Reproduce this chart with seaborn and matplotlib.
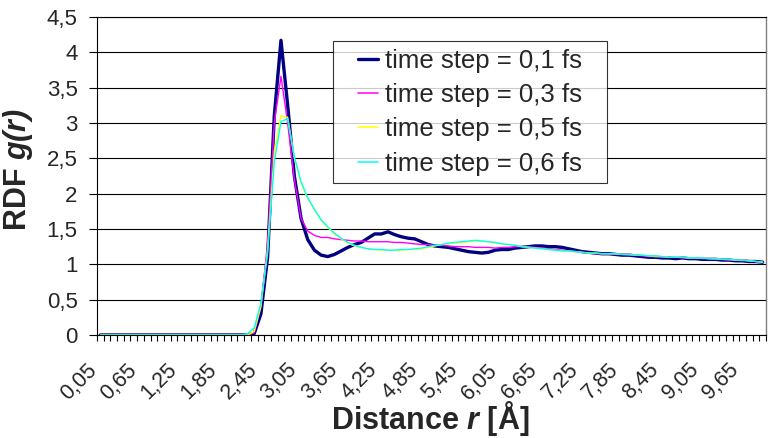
import numpy as np
import pandas as pd
import seaborn as sns
import matplotlib.pyplot as plt
import matplotlib.transforms as mtransforms
from matplotlib.legend_handler import HandlerLine2D

# radial distribution function for four time steps, 0.1 A bins (0,05 ... 9,95)
r_values = [round(0.05 + 0.1 * k, 2) for k in range(100)]
labels = ['time step = 0,1 fs', 'time step = 0,3 fs',
          'time step = 0,5 fs', 'time step = 0,6 fs']
colors = ['#000080', '#FF00FF', '#FFFF00', '#00FFFF']
widths = [2.4, 1.0, 1.0, 1.0]

g_01 = [0.0] * 23 + [
    0.02, 0.3, 1.1, 3.1, 4.17, 3.25, 2.25, 1.65, 1.35, 1.2, 1.13, 1.11,
    1.14, 1.19, 1.24, 1.28, 1.31, 1.37, 1.43, 1.43, 1.46, 1.42, 1.39, 1.37, 1.36, 1.32, 1.28,
    1.26, 1.25, 1.24, 1.22, 1.20, 1.18, 1.17, 1.16, 1.17, 1.20, 1.21, 1.21, 1.23, 1.24, 1.25,
    1.26, 1.26, 1.25, 1.25, 1.24, 1.22, 1.20, 1.18, 1.17, 1.16, 1.15, 1.15, 1.14, 1.13, 1.13,
    1.12, 1.11, 1.10, 1.10, 1.09, 1.09, 1.08, 1.09, 1.08, 1.08,
    1.07, 1.07, 1.07, 1.06, 1.06, 1.05, 1.05, 1.04, 1.04, 1.03]

g_03 = [0.0] * 23 + [
    0.03, 0.4, 1.3, 3.0, 3.66, 3.0, 2.2, 1.65, 1.47, 1.41, 1.38, 1.38,
    1.36, 1.35, 1.34, 1.33, 1.33, 1.32, 1.32, 1.32, 1.32, 1.31, 1.31, 1.30, 1.29, 1.28, 1.28,
    1.27, 1.27, 1.26, 1.25, 1.25, 1.25, 1.24, 1.24, 1.24, 1.23, 1.24, 1.24, 1.25, 1.25, 1.25,
    1.24, 1.23, 1.22, 1.21, 1.20, 1.19, 1.18, 1.17, 1.16, 1.15, 1.15, 1.15, 1.14, 1.14, 1.13,
    1.13, 1.12, 1.11, 1.11, 1.10, 1.10, 1.10, 1.09, 1.09, 1.09,
    1.08, 1.08, 1.07, 1.07, 1.06, 1.06, 1.05, 1.05, 1.04, 1.03]

g_05 = [0.0] * 23 + [
    0.05, 0.4, 1.2, 2.6, 3.1, 3.08, 2.5, 2.15, 1.93, 1.77, 1.62, 1.52,
    1.43, 1.36, 1.30, 1.26, 1.24, 1.22, 1.21, 1.20, 1.20, 1.20, 1.20, 1.21, 1.21, 1.22, 1.24,
    1.26, 1.28, 1.29, 1.30, 1.31, 1.32, 1.33, 1.33, 1.32, 1.30, 1.29, 1.28, 1.27, 1.25, 1.24,
    1.23, 1.22, 1.21, 1.20, 1.19, 1.185, 1.18, 1.17, 1.16, 1.16, 1.15, 1.15, 1.15, 1.14, 1.14,
    1.13, 1.13, 1.12, 1.11, 1.11, 1.10, 1.10, 1.10, 1.09, 1.09,
    1.09, 1.08, 1.08, 1.07, 1.07, 1.06, 1.06, 1.05, 1.04, 1.03]

g_06 = [0.0] * 22 + [
    0.02, 0.1, 0.45, 1.15, 2.45, 3.02, 3.06, 2.52, 2.17, 1.94, 1.78, 1.63, 1.53,
    1.44, 1.37, 1.31, 1.27, 1.24, 1.22, 1.21, 1.21, 1.20, 1.20, 1.21, 1.21, 1.22, 1.23, 1.25,
    1.27, 1.28, 1.30, 1.31, 1.32, 1.33, 1.34, 1.33, 1.32, 1.31, 1.29, 1.28, 1.27, 1.25, 1.24,
    1.23, 1.22, 1.21, 1.20, 1.19, 1.19, 1.18, 1.17, 1.16, 1.16, 1.15, 1.15, 1.15, 1.14, 1.14,
    1.13, 1.13, 1.12, 1.12, 1.11, 1.10, 1.10, 1.10, 1.09, 1.09,
    1.09, 1.08, 1.08, 1.07, 1.07, 1.06, 1.06, 1.05, 1.04, 1.03]

series = [g_01, g_03, g_05, g_06]

y_ticks = [0, 0.5, 1, 1.5, 2, 2.5, 3, 3.5, 4, 4.5]
y_ticklabels = ['0', '0,5', '1', '1,5', '2', '2,5', '3', '3,5', '4', '4,5']


class ShortLine(HandlerLine2D):
    # excel legend keys are short strokes right before the text
    def create_artists(self, *args, **kwargs):
        arts = super().create_artists(*args, **kwargs)
        for a in arts:
            x = a.get_xdata()
            y = a.get_ydata()
            if len(x) >= 2:
                a.set_data([x[-1] - 14.5, x[-1]], [y[0], y[0]])
                a.set_linewidth(max(a.get_linewidth(), 1.1))
        return arts


sns.set_theme(style='white')
plt.rcParams['font.family'] = ['Liberation Sans', 'DejaVu Sans']
plt.rcParams['mathtext.fontset'] = 'custom'
plt.rcParams['mathtext.bfit'] = 'Liberation Sans:italic:bold'
plt.rcParams['mathtext.rm'] = 'Liberation Sans'

fig = plt.figure(figsize=(7.75, 4.38), dpi=100)
ax = fig.add_axes([97 / 775, 1 - 335 / 438, 669 / 775, 318 / 438])

# excel style category axis: one category per bin
idx = np.arange(len(r_values))
for vals, lab, col, lw in zip(series, labels, colors, widths):
    df = pd.DataFrame({'cat': idx, 'g': vals})
    sns.lineplot(data=df, x='cat', y='g', color=col, linewidth=lw, label=lab, ax=ax)

ax.set_xlim(-0.5, len(r_values) - 0.5)
ax.set_ylim(0, 4.5)

# tick marks between the categories, labels on every sixth category
ax.set_xticks(np.arange(-0.5, len(r_values), 1.0))
ax.set_xticklabels([])
ax.tick_params(axis='x', which='major', direction='out', length=4, width=0.8,
               color='black', bottom=True)
lab_pos = idx[::6]
ax.set_xticks(lab_pos, minor=True)
ax.set_xticklabels([f'{r_values[k]:.2f}'.replace('.', ',') for k in lab_pos],
                   minor=True, rotation=45, ha='right', rotation_mode='anchor',
                   va='center')
ax.tick_params(axis='x', which='minor', length=0, pad=23, labelsize=15.5)
shift = mtransforms.ScaledTranslation(-7 / 100, 0, fig.dpi_scale_trans)
for t in ax.get_xticklabels(minor=True):
    t.set_transform(t.get_transform() + shift)

ax.set_yticks(y_ticks)
ax.set_yticklabels(y_ticklabels)
ax.tick_params(axis='y', direction='out', length=6, width=0.8, color='black',
               left=True, pad=8, labelsize=16)

ax.grid(axis='y', color='black', linewidth=0.8)
ax.grid(axis='x', visible=False)
for s in ['left', 'bottom', 'top']:
    ax.spines[s].set_color('black')
    ax.spines[s].set_linewidth(0.8)
ax.spines['right'].set_color('#808080')
ax.spines['right'].set_linewidth(1.0)

ax.set_xlabel(r'Distance $\bfit{r}$ [Å]', fontsize=22, fontweight='bold')
ax.xaxis.set_label_coords(0.498, -0.2)
ax.set_ylabel(r'RDF $\bfit{g(r)}$', fontsize=22, fontweight='bold')
ax.yaxis.set_label_coords(-0.092, 0.52)

handles, _ = ax.get_legend_handles_labels()
leg = ax.legend(handles, labels, loc='upper left', mode='expand',
                bbox_to_anchor=(333 / 775, 1 - 179 / 438, 274 / 775, 138 / 438),
                bbox_transform=fig.transFigure, fontsize=18.5, frameon=True,
                fancybox=False, edgecolor='black', handlelength=1.45,
                handletextpad=0.28, labelspacing=0.4, borderpad=0.3,
                borderaxespad=0, handler_map={h: ShortLine() for h in handles})
leg.get_frame().set_linewidth(0.8)

fig.savefig('out.png', dpi=100)
